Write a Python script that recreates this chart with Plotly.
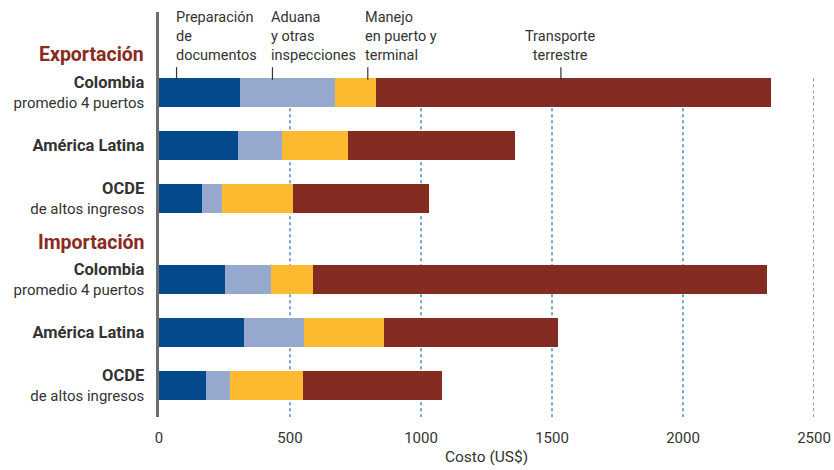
import plotly.graph_objects as go

# Costs in US$ per container
row_pos = [0, 1, 2, 3.53, 4.53, 5.53]
row_titles = ["Colombia", "América Latina", "OCDE",
              "Colombia", "América Latina", "OCDE"]
row_subtitles = ["promedio 4 puertos", "", "de altos ingresos",
                 "promedio 4 puertos", "", "de altos ingresos"]

documentos = [309, 302, 164, 252, 325, 180]
aduana = [363, 168, 77, 176, 229, 91]
manejo = [157, 252, 271, 160, 305, 279]
transporte = [1505, 638, 519, 1731, 665, 531]

segment_names = ["Preparación de documentos", "Aduana y otras inspecciones",
                 "Manejo en puerto y terminal", "Transporte terrestre"]
segment_colors = ["#034a8d", "#97a8cf", "#fbba30", "#842b22"]

x_ticks = [0, 500, 1000, 1500, 2000, 2500]

FONT = "Roboto, sans-serif"
TEXT = "#333333"
RED = "#8a2b22"


def row_label(title, sub):
    label = f"<span style='font-size:16.5px'><b>{title}</b></span>"
    if sub:
        label += f"<br>{sub}"
    return label


row_labels = [row_label(t, s) for t, s in zip(row_titles, row_subtitles)]

fig = go.Figure()
for name, vals, color in zip(segment_names,
                             [documentos, aduana, manejo, transporte],
                             segment_colors):
    fig.add_trace(go.Bar(
        y=row_pos, x=vals, orientation="h", name=name,
        marker=dict(color=color, line=dict(width=0)),
        width=0.55, showlegend=False, hoverinfo="x+name",
    ))

# dotted vertical gridlines
for xv in x_ticks[1:]:
    fig.add_shape(type="line", x0=xv, x1=xv, y0=-0.27, y1=6.12,
                  xref="x", yref="y", layer="below",
                  line=dict(color="#4a86c5", width=1.5, dash="dot"))

# segment labels at the top with small pointer ticks
top_labels = [
    ("Preparación<br>de<br>documentos", 61, 67, "left"),
    ("Aduana<br>y otras<br>inspecciones", 425, 433, "left"),
    ("Manejo<br>en puerto y<br>terminal", 783, 797, "left"),
    ("Transporte<br>terrestre", 1534, 1534, "center"),
]
for text, xt, xl, anchor in top_labels:
    fig.add_annotation(x=xt, y=-0.52, xref="x", yref="y", text=text,
                       showarrow=False, xanchor=anchor, yanchor="bottom",
                       align=anchor, borderpad=0,
                       font=dict(family=FONT, size=14.5, color=TEXT))
    fig.add_shape(type="line", x0=xl, x1=xl, y0=-0.48, y1=-0.24,
                  xref="x", yref="y", line=dict(color="#333333", width=1.2))

# section headers
for text, yv in [("Exportación", -0.71), ("Importación", 2.83)]:
    fig.add_annotation(x=-0.02, y=yv, xref="paper", yref="y", text=f"<b>{text}</b>",
                       showarrow=False, xanchor="right", yanchor="middle",
                       font=dict(family=FONT, size=19.5, color=RED))

fig.update_layout(
    width=834, height=470,
    margin=dict(l=159, r=20, t=12, b=53),
    plot_bgcolor="white", paper_bgcolor="white",
    barmode="stack", bargap=0,
    font=dict(family=FONT, size=15, color=TEXT),
    xaxis=dict(range=[0, 2500], tickvals=x_ticks, showgrid=False, zeroline=False,
               showline=False, ticks="", ticklabelstandoff=10, automargin=False,
               tickfont=dict(size=15, color=TEXT),
               title=dict(text="Costo (US$)", standoff=5,
                          font=dict(size=15.5, color=TEXT))),
    yaxis=dict(range=[6.12, -1.52], tickvals=row_pos, ticktext=row_labels,
               showgrid=False, zeroline=False, showline=True, automargin=False,
               linecolor="#6d6d6d", linewidth=2.5, ticks="",
               ticklabelstandoff=9, tickfont=dict(size=15, color=TEXT)),
)

# drop the default 8px page margin so the figure fills the window exactly
fig.write_html("out.html", config={"displayModeBar": False},
               post_script="document.body.style.margin='0';"
                           "document.body.style.overflow='hidden';")
